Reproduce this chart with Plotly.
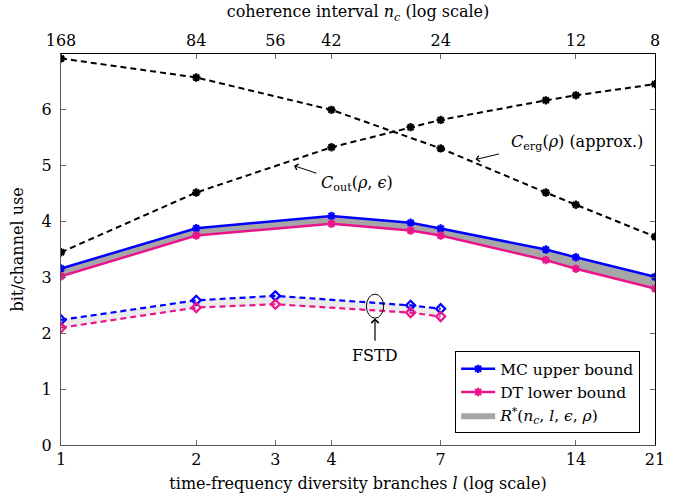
import math
import plotly.graph_objects as go

# ---- data ----
l_main = [1, 2, 4, 6, 7, 12, 14, 21]
mc_upper = [3.16, 3.88, 4.10, 3.98, 3.875, 3.50, 3.36, 3.01]
dt_lower = [3.02, 3.75, 3.96, 3.84, 3.75, 3.31, 3.155, 2.80]

l_fstd = [1, 2, 3, 6, 7]
fstd_mc = [2.24, 2.59, 2.67, 2.50, 2.44]
fstd_dt = [2.10, 2.46, 2.52, 2.37, 2.30]

l_out = [1, 2, 4, 6, 7, 12, 14, 21]
c_out = [3.45, 4.52, 5.33, 5.69, 5.82, 6.17, 6.26, 6.46]

l_erg = [1, 2, 4, 7, 12, 14, 21]
c_erg = [6.92, 6.58, 6.00, 5.31, 4.52, 4.30, 3.73]

x_ticks = [1, 2, 3, 4, 7, 14, 21]
nc_ticks = [168, 84, 56, 42, 24, 12, 8]
y_ticks = [0, 1, 2, 3, 4, 5, 6]

BLUE = "#0000FF"
PINK = "#EC148C"
FONT = "DejaVu Serif"
FS = 16
FT = 16

lg = math.log10
xr = [0, lg(21)]

fig = go.Figure()

# FSTD light fill
fig.add_trace(go.Scatter(x=l_fstd, y=fstd_dt, mode="lines", line=dict(width=0),
                         showlegend=False, hoverinfo="skip"))
fig.add_trace(go.Scatter(x=l_fstd, y=fstd_mc, mode="lines", line=dict(width=0),
                         fill="tonexty", fillcolor="#EBEBEB", showlegend=False, hoverinfo="skip"))
# R* gray fill
fig.add_trace(go.Scatter(x=l_main, y=dt_lower, mode="lines", line=dict(width=0),
                         showlegend=False, hoverinfo="skip"))
fig.add_trace(go.Scatter(x=l_main, y=mc_upper, mode="lines", line=dict(width=0),
                         fill="tonexty", fillcolor="#A6A6A6",
                         name="<i>R</i><sup>*</sup>(<i>n</i><sub><i>c</i></sub>, <i>l</i>, <i>ϵ</i>, <i>ρ</i>)",
                         legendrank=3, hoverinfo="skip"))

# capacity curves
for xs, ys in [(l_out, c_out), (l_erg, c_erg)]:
    fig.add_trace(go.Scatter(x=xs, y=ys, mode="lines+markers",
                             line=dict(color="black", width=2, dash="6px,4px"),
                             marker=dict(symbol="asterisk-open", size=7, color="black",
                                         line=dict(color="black", width=2.2)),
                             showlegend=False))

# FSTD dashed curves
for ys, col in [(fstd_mc, BLUE), (fstd_dt, PINK)]:
    fig.add_trace(go.Scatter(x=l_fstd, y=ys, mode="lines+markers",
                             line=dict(color=col, width=2.2, dash="6px,4px"),
                             marker=dict(symbol="diamond-open", size=7, color=col,
                                         line=dict(color=col, width=2.2)),
                             showlegend=False))

# bounds
fig.add_trace(go.Scatter(x=l_main, y=mc_upper, mode="lines+markers", name="MC upper bound",
                         line=dict(color=BLUE, width=2.5),
                         marker=dict(symbol="asterisk-open", size=7, color=BLUE,
                                     line=dict(color=BLUE, width=2.2)),
                         legendrank=1))
fig.add_trace(go.Scatter(x=l_main, y=dt_lower, mode="lines+markers", name="DT lower bound",
                         line=dict(color=PINK, width=2.5),
                         marker=dict(symbol="asterisk-open", size=7, color=PINK,
                                     line=dict(color=PINK, width=2.2)),
                         legendrank=2))

# helper (no visible marks) so that the top and right axes are drawn
fig.add_trace(go.Scatter(x=[168 / n for n in nc_ticks], y=[None] * len(nc_ticks),
                         xaxis="x2", yaxis="y2", mode="lines", showlegend=False,
                         hoverinfo="skip"))

tick_common = dict(ticks="inside", ticklen=5, tickcolor="#666", showgrid=False,
                   zeroline=False, tickfont=dict(size=FS))

fig.update_layout(
    width=686, height=497,
    margin=dict(l=61, r=31, t=54, b=52, autoexpand=False),
    paper_bgcolor="white", plot_bgcolor="white",
    font=dict(family=FONT, size=FS, color="black"),
    showlegend=True,
    legend=dict(x=0.975, xanchor="right", y=0.03, yanchor="bottom",
                bordercolor="black", borderwidth=1, bgcolor="white",
                traceorder="normal", font=dict(size=FS - 0.5), tracegroupgap=0, itemwidth=34),
    xaxis=dict(type="log", range=xr, tickvals=x_ticks, ticktext=[str(v) for v in x_ticks],
               showline=True, linecolor="#555", linewidth=1.3, **tick_common,
               title=dict(text="time-frequency diversity branches <i>l</i> (log scale)",
                          standoff=9, font=dict(size=FT))),
    xaxis2=dict(type="log", range=xr, overlaying="x", side="top", anchor="y2",
                tickvals=[168 / n for n in nc_ticks], ticktext=[str(n) for n in nc_ticks],
                showline=True, linecolor="black", linewidth=1.3, **tick_common,
                title=dict(text="coherence interval <i>n</i><sub><i>c</i></sub> (log scale)",
                           standoff=9, font=dict(size=FT))),
    yaxis=dict(range=[0, 7], tickvals=y_ticks, showline=True, linecolor="#555",
               linewidth=1.3, ticklabelstandoff=5, **tick_common,
               title=dict(text="bit/channel use", standoff=13, font=dict(size=FT))),
    yaxis2=dict(range=[0, 7], tickvals=y_ticks, overlaying="y", side="right", anchor="x2",
                showticklabels=False, showline=True, linecolor="black", linewidth=1.3,
                **tick_common),
)

# annotations
fig.add_annotation(x=lg(8.37), y=5.11, ax=25, ay=-6, showarrow=True, arrowhead=4,
                   arrowsize=1.2, arrowwidth=1, arrowcolor="black", text="")
fig.add_annotation(x=lg(14.1), y=5.42, showarrow=False,
                   text="<i>C</i><sub>erg</sub>(<i>ρ</i>) (approx.)", font=dict(size=FS))
fig.add_annotation(x=lg(3.3), y=5.0, ax=24, ay=8, showarrow=True, arrowhead=4,
                   arrowsize=1.2, arrowwidth=1, arrowcolor="black", text="")
fig.add_annotation(x=lg(4.56), y=4.68, showarrow=False,
                   text="<i>C</i><sub>out</sub>(<i>ρ</i>, <i>ϵ</i>)", font=dict(size=FS))
fig.add_annotation(x=lg(5.0), y=2.27, ax=0, ay=24, showarrow=True, arrowhead=4,
                   arrowsize=1.2, arrowwidth=1.2, arrowcolor="black", text="")
fig.add_annotation(x=lg(5.0), y=1.61, showarrow=False, text="FSTD", font=dict(size=FS))
cx = lg(5.0) / lg(21)
fig.add_shape(type="circle", xref="paper", yref="y",
              x0=cx - 0.0145, x1=cx + 0.0145, y0=2.27, y1=2.70,
              line=dict(color="black", width=1))

fig.write_html("out.html", config={"displayModeBar": False},
               post_script="document.body.style.margin='0';document.body.style.padding='0';")
